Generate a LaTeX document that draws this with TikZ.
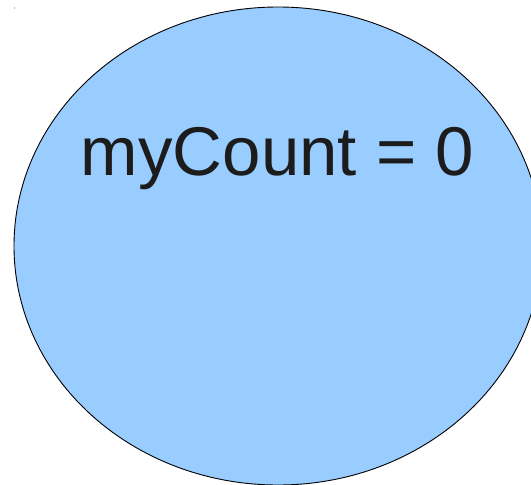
\documentclass[tikz,border=0pt]{standalone}
\usepackage{fontspec}
\setmainfont{Liberation Sans}
\usepackage{tikz}
\usetikzlibrary{positioning}
\definecolor{bubble}{HTML}{99CCFF}
\definecolor{ink}{HTML}{1C1C1C}

\begin{document}
\begin{tikzpicture}[x=1pt, y=-1pt]
  \useasboundingbox (0,0) rectangle (531,485);
  \fill[gray!60] (13.5,7) rectangle (15,8.5);
  \begin{scope}
    \clip (0,0) rectangle (531,485);
    \draw[fill=bubble, line width=0.9pt] (278,246) ellipse [x radius=264, y radius=239];
  \end{scope}
  \node[ink, anchor=base, inner sep=0pt, font=\fontsize{69}{80}\selectfont] (count) at (277.5,175) {myCount = 0};
\end{tikzpicture}
\end{document}
